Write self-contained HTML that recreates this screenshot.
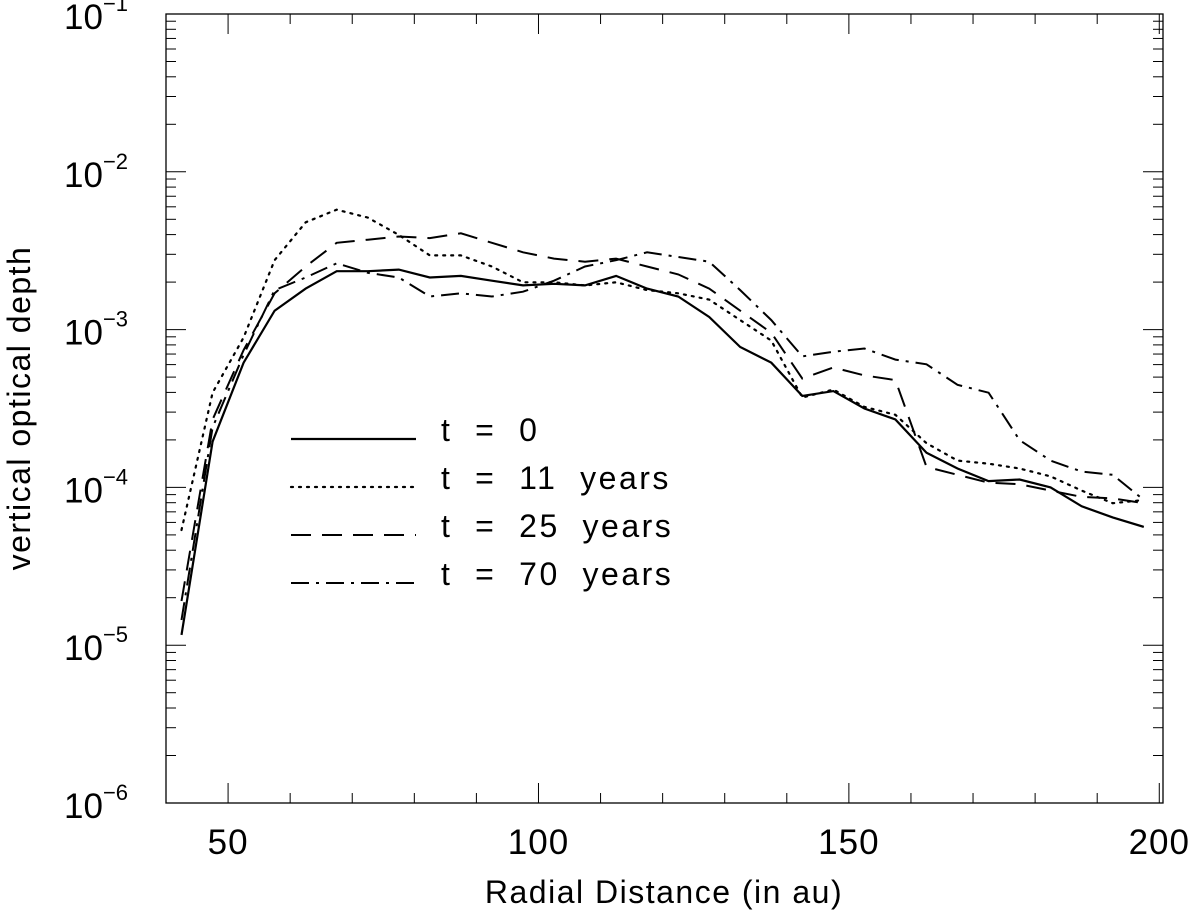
<!DOCTYPE html>
<html><head><meta charset="utf-8">
<style>
html,body{margin:0;padding:0;background:#fff;}
svg{display:block;font-family:"Liberation Sans",sans-serif;}
</style></head>
<body>
<svg id="chart" width="1200" height="922" viewBox="0 0 1200 922" xmlns="http://www.w3.org/2000/svg">
<rect x="166" y="14" width="997" height="789" fill="none" stroke="#000" stroke-width="1.3"/>
<g id="axes"></g>
<g id="series"></g>
<text x="664" y="903" font-size="32" letter-spacing="1.5" text-anchor="middle" fill="#000">Radial Distance (in au)</text>
<text transform="translate(30,408) rotate(-90)" font-size="32" letter-spacing="1.5" text-anchor="middle" fill="#000">vertical optical depth</text>
<g id="legend"></g>
</svg>
<script>
const xs = [42.5,47.5,52.5,57.5,62.5,67.5,72.5,77.5,82.5,87.5,92.5,97.5,102.5,107.5,112.5,117.5,122.5,127.5,132.5,137.5,142.5,147.5,152.5,157.5,162.5,167.5,172.5,177.5,182.5,187.5,192.5,197.5];
const logT0 = [-4.935,-3.71,-3.21,-2.88,-2.74,-2.63,-2.63,-2.62,-2.67,-2.66,-2.69,-2.72,-2.71,-2.72,-2.66,-2.74,-2.79,-2.92,-3.11,-3.21,-3.42,-3.39,-3.50,-3.57,-3.78,-3.88,-3.96,-3.95,-4.00,-4.12,-4.19,-4.25];
const logT11 = [-4.27,-3.40,-3.05,-2.56,-2.32,-2.24,-2.29,-2.40,-2.53,-2.53,-2.60,-2.70,-2.70,-2.72,-2.70,-2.75,-2.77,-2.81,-2.94,-3.07,-3.43,-3.38,-3.49,-3.54,-3.72,-3.83,-3.85,-3.88,-3.93,-4.02,-4.10,-4.08];
const logT25 = [-4.72,-3.57,-3.13,-2.77,-2.60,-2.45,-2.43,-2.41,-2.42,-2.39,-2.45,-2.51,-2.55,-2.57,-2.55,-2.60,-2.65,-2.74,-2.88,-3.02,-3.31,-3.24,-3.29,-3.32,-3.87,-3.92,-3.97,-3.98,-4.02,-4.06,-4.07,-4.10];
const logT70 = [-4.84,-3.62,-3.16,-2.75,-2.67,-2.58,-2.64,-2.67,-2.79,-2.77,-2.79,-2.76,-2.69,-2.60,-2.56,-2.51,-2.54,-2.57,-2.75,-2.94,-3.17,-3.14,-3.12,-3.19,-3.22,-3.35,-3.40,-3.70,-3.83,-3.90,-3.92,-4.08];
const xTicks = [50,100,150,200];
const yExps = [-1,-2,-3,-4,-5,-6];
const legendLabels = ["t  =  0","t  =  11  years","t  =  25  years","t  =  70  years"];

const NS="http://www.w3.org/2000/svg";
const X0=166,X1=1163,Y0=14,Y1=803;
const xMin=40,xMax=200.6;
function xp(v){return X0+(v-xMin)/(xMax-xMin)*(X1-X0);}
function yp(lg){return Y0+(-1-lg)/5*(Y1-Y0);}
function mk(tag,attrs,parent){const e=document.createElementNS(NS,tag);for(const k in attrs)e.setAttribute(k,attrs[k]);parent.appendChild(e);return e;}
const axes=document.getElementById('axes');
for(let v=40;v<=200;v+=10){
  const major=v%50===0;const L=major?20:10;const x=xp(v);
  const t1=mk('line',{x1:x,x2:x,y1:Y1,y2:Y1-L,stroke:'#000','stroke-width':1},axes);
  
  
  const t2=mk('line',{x1:x,x2:x,y1:Y0,y2:Y0+L,stroke:'#000','stroke-width':1},axes);
  
  
}
xTicks.forEach(v=>{
  const t=mk('text',{x:xp(v),y:854,'font-size':35,'letter-spacing':1,'text-anchor':'middle',fill:'#000'},axes);
  t.textContent=v;
  
  
});
for(let e=-6;e<-1;e++){
  for(let m=1;m<10;m++){
    const lg=e+Math.log10(m);const y=yp(lg);const L=m===1?20:10;
    const a=mk('line',{x1:X0,x2:X0+L,y1:y,y2:y,stroke:'#000','stroke-width':1},axes);
    
    
    const b=mk('line',{x1:X1,x2:X1-L,y1:y,y2:y,stroke:'#000','stroke-width':1},axes);
    
    
  }
}
yExps.forEach(e=>{
  const y=yp(e);
  const t=mk('text',{x:64,y:y+15,'font-size':35,fill:'#000'},axes);
  
  
  t.appendChild(document.createTextNode('10'));
  const s=mk('tspan',{'font-size':22,dy:-18},t);
  s.textContent=String(e).replace('-','\u2212');
});
const series=document.getElementById('series');
const styles=[
  {d:logT0,dash:'',w:2.2,name:'series-t0'},
  {d:logT11,dash:'2 6',w:2.2,name:'series-t11'},
  {d:logT25,dash:'20 11',w:2,name:'series-t25'},
  {d:logT70,dash:'18 7 3 7',w:2,name:'series-t70'}
];
styles.forEach(s=>{
  const pts=xs.map((x,i)=>xp(x).toFixed(1)+','+yp(s.d[i]).toFixed(1)).join(' ');
  const p=mk('polyline',{points:pts,fill:'none',stroke:'#000','stroke-width':s.w,'stroke-dasharray':s.dash,'stroke-linecap':s.dash==='2 6'?'round':'butt'},series);
  
  
});
const legend=document.getElementById('legend');
const ly=[439,487,535,583];
styles.forEach((s,i)=>{
  const l=mk('line',{x1:291,x2:416,y1:ly[i],y2:ly[i],stroke:'#000','stroke-width':s.w,'stroke-dasharray':s.dash,'stroke-linecap':s.dash==='2 6'?'round':'butt'},legend);
  
  
  const t=mk('text',{x:441,y:ly[i]+2,'font-size':32,'letter-spacing':2.5,fill:'#000'},legend);
  t.textContent=legendLabels[i].replace(/ /g,'\u00a0');
  
  
});
</script>
</body></html>
